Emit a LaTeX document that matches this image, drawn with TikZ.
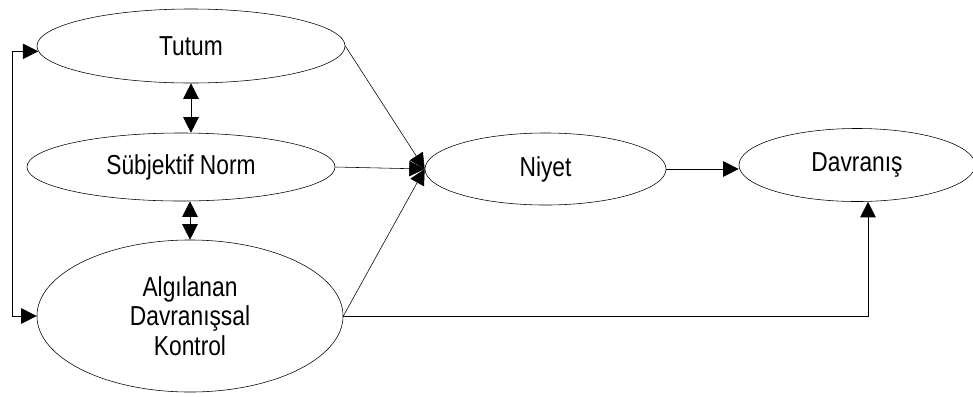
\documentclass[tikz,border=0pt]{standalone}
\usepackage{fontspec}
\setmainfont{Liberation Sans}[FakeStretch=0.83]
\usetikzlibrary{
        arrows.meta,
        shapes.geometric
    }
\tikzset{>={Triangle[length=11pt,width=11pt]},line width=1.5pt}
\tikzset{oval/.style={ellipse,draw,inner sep=0pt,align=center,
        font=\fontsize{19.5}{21}\selectfont}}

\begin{document}
\begin{tikzpicture}[x=0.025cm,y=-0.025cm]
                \useasboundingbox (0,0) rectangle (973,396);
                \node[oval,minimum width=7.7cm,minimum height=1.85cm] (tutum) at (191,46) {Tutum};
                \node[oval,minimum width=7.7cm,minimum height=1.7cm] (norm) at (181,167) {Sübjektif Norm};
                \node[oval,minimum width=7.65cm,minimum height=3.8cm] (kontrol) at (190,316) {Algılanan\\Davranışsal\\Kontrol};
                \node[oval,minimum width=6.025cm,minimum height=1.8cm] (niyet) at (545.5,169) {Niyet};
                \node[oval,minimum width=5.9cm,minimum height=1.825cm] (davranis) at (857,165) {Davranış};
                \path[->]
                    (tutum.east)  edge  (niyet.west)
                    (norm.east)  edge  (niyet.west)
                    (kontrol.east)  edge  (niyet.west)
                    ;
                \path[<->]
                    (tutum.south)  edge  (tutum.south |- norm.north)
                    (kontrol.north)  edge  (kontrol.north |- norm.south)
                    ;
                \draw[->] (niyet.east) -- (niyet.east -| davranis.west);
                \draw[->] (kontrol.east) -| ([xshift=0.275cm]davranis.south);
                \draw[<->] (tutum.182) -- ++(-26,0) |- (kontrol.west);
            \end{tikzpicture}
\end{document}
